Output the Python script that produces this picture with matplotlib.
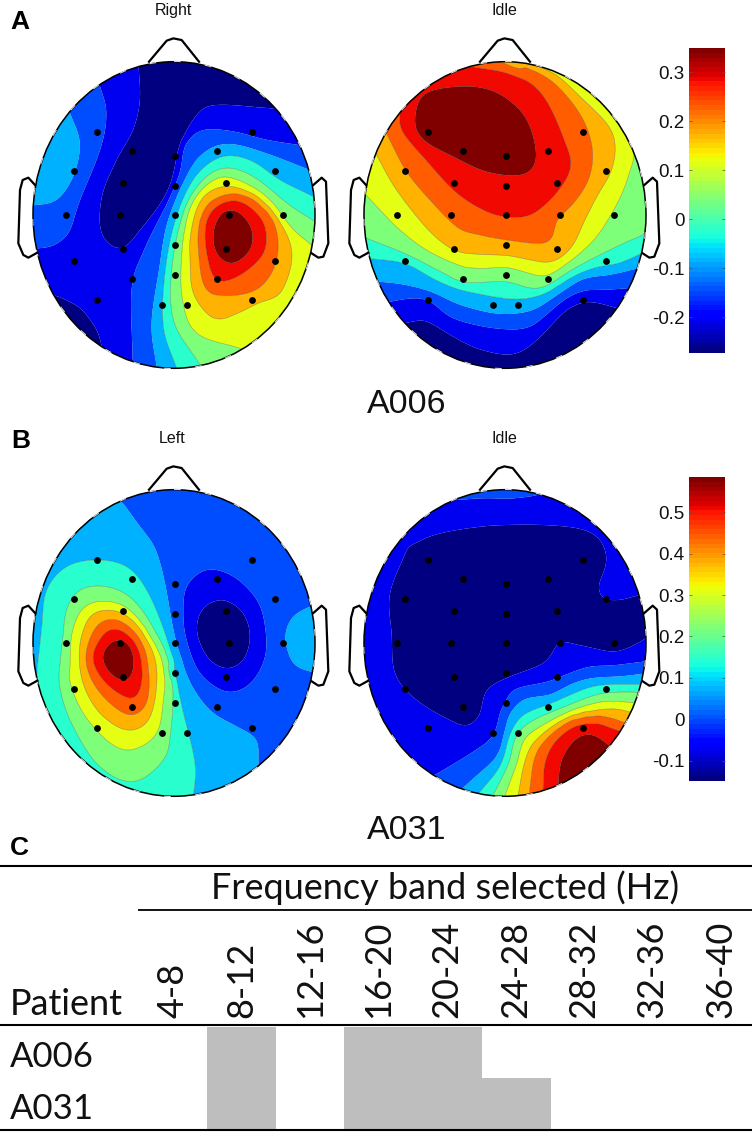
import numpy as np
import matplotlib
matplotlib.use("Agg")
import matplotlib.pyplot as plt
from matplotlib.colors import ListedColormap, Normalize
from matplotlib.patches import Ellipse
from matplotlib.cm import ScalarMappable

W, H = 756, 1134
FONT_SANS = ['Liberation Sans', 'DejaVu Sans']
FONT_TABLE = ['Lato', 'DejaVu Sans']

# electrode positions, relative to head centre (reading units, 3 per pixel)
ELECTRODE_X = [-231, 233, -126, 3, 129, -299, 302, -154, 3, 157, -324, -162, 3, 164, 327,
               -154, 3, 157, -299, 302, -126, 3, 129, -231, 233, -37, 39]
ELECTRODE_Y = [-250, -250, -193, -178, -193, -132, -132, -96, -88, -96, 0, 0, 0, 0, 0,
               101, 89, 101, 137, 137, 193, 181, 193, 254, 254, 270, 270]

RIGHT_ISO = [
    (1, [(415,190),(420,300),(400,390),(350,480),(305,590),(305,700),(365,745),(430,680),(505,570),(540,440),(590,345),(650,315),(820,325)]),
    (1, [(175,890),(240,925),(290,990),(305,1040)]),
    (2, [(300,260),(320,340),(300,450),(240,600),(205,700),(150,740),(110,745)]),
    (2, [(398,1080),(395,860),(430,750),(490,630),(522,560),(540,510),(555,430),(610,390),(700,395),(800,420),(895,435)]),
    (3, [(210,340),(240,430),(220,530),(170,600),(105,615)]),
    (3, [(470,1100),(455,970),(480,800),(505,660),(560,530),(620,455),(690,432),(800,460),(930,510)]),
    (4, [(530,1105),(490,980),(497,800),(530,650),(585,530),(665,470),(750,480),(840,540),(940,590)]),
    (5, [(600,1095),(520,960),(515,800),(550,640),(610,540),(680,505),(760,530),(850,600),(945,665)]),
    (6, [(720,1045),(590,1000),(550,910),(545,780),(570,620),(640,540),(700,535),(800,590),(870,680),(935,735)]),
    (7, [(572,700),(570,780),(580,880),(640,955),(700,945),(780,905),(840,880),(875,780),(855,690),(780,600),(690,560),(610,590),(572,700)]),
    (8, [(595,700),(610,850),(660,885),(770,870),(830,780),(820,660),(750,590),(680,585),(620,620),(595,700)]),
    (9, [(615,710),(640,830),(700,835),(790,760),(790,670),(730,610),(680,605),(630,640),(615,710)]),
    (10, [(640,700),(650,760),(700,790),(750,750),(755,690),(720,640),(670,635),(640,700)]),
]
RIGHT_PEAKS = [(700,710,10.9),(600,250,0.3),(380,620,0.6),(220,960,0.6),(170,480,3.6),(300,800,1.5),(800,980,6.6),(870,850,6.8),(350,350,1.5)]

IDLE_A_ISO = [
    (1, [(195,970),(260,965),(340,1010),(410,1045),(500,1065),(560,1045),(620,990),(680,930),(740,905),(800,915),(835,925)]),
    (2, [(150,905),(210,895),(265,900),(330,950),(410,975),(500,987),(570,980),(630,935),(680,895),(730,875),(800,870),(865,865)]),
    (3, [(115,845),(190,855),(280,880),(360,915),(460,940),(530,940),(590,925),(660,880),(730,835),(800,825),(890,805)]),
    (4, [(85,775),(196,790),(290,840),(370,870),(490,895),(560,895),(620,875),(680,840),(760,805),(840,790),(905,760)]),
    (5, [(80,715),(190,760),(310,820),(370,848),(498,845),(570,865),(620,860),(680,820),(760,775),(840,735),(910,705)]),
    (6, [(78,585),(130,640),(180,690),(260,750),(360,795),(430,805),(500,802),(570,820),(625,825),(680,790),(730,750),(770,710),(815,640),(850,570),(880,480)]),
    (7, [(110,465),(170,570),(265,690),(340,750),(400,762),(500,767),(560,778),(620,787),(660,775),(700,735),(730,670),(770,590),(815,510),(825,430),(800,370),(720,290),(640,220),(545,190)]),
    (8, [(140,400),(196,510),(270,600),(350,680),(400,700),(500,720),(610,730),(640,700),(650,660),(700,610),(745,540),(757,450),(725,350),(650,255),(560,195)]),
    (9, [(180,340),(185,390),(250,470),(340,570),(420,625),(490,650),(570,645),(640,590),(690,510),(680,440),(610,290),(520,225),(395,200)]),
    (10, [(225,365),(250,285),(350,260),(450,270),(540,330),(580,410),(585,490),(540,525),(440,515),(340,470),(250,420),(225,365)]),
]
IDLE_A_PEAKS = [(400,390,10.9),(480,1100,0.3),(760,1000,0.3)]

LEFT_ISO = [
    (1, [(590,620),(610,565),(670,540),(730,580),(750,650),(730,720),(680,745),(630,720),(600,670),(590,620)]),
    (2, [(550,580),(560,500),(620,450),(700,470),(770,540),(795,620),(795,710),(750,790),(680,815),(600,760),(560,660),(550,580)]),
    (3, [(365,245),(420,320),(465,385),(495,490),(525,650),(570,780),(630,870),(720,925),(770,960),(775,1035)]),
    (3, [(930,560),(880,590),(855,650),(880,730),(935,755)]),
    (4, [(580,1125),(585,1030),(545,860),(520,760),(495,640),(440,510),(380,440),(290,420),(200,440),(140,510),(125,620),(110,760)]),
    (5, [(180,740),(190,650),(200,570),(240,510),(320,500),(400,540),(470,640),(520,760),(510,950),(490,1020),(420,1080),(350,1075),(280,1020),(210,900),(180,800),(180,740)]),
    (6, [(210,740),(215,640),(250,565),(310,545),(380,565),(440,640),(490,740),(490,830),(470,940),(390,990),(320,960),(250,880),(210,790),(210,740)]),
    (7, [(240,680),(270,590),(330,570),(400,600),(460,690),(470,790),(445,900),(380,930),(300,880),(250,790),(240,680)]),
    (8, [(258,700),(290,620),(350,600),(420,660),(445,760),(440,850),(390,885),(320,840),(270,770),(258,700)]),
    (9, [(280,700),(320,635),(370,635),(420,700),(425,790),(395,835),(330,800),(290,750),(280,700)]),
    (10, [(310,700),(340,665),(385,670),(400,710),(395,760),(360,780),(320,745),(310,700)]),
]
LEFT_PEAKS = [(360,720,10.9),(670,640,0.3),(850,900,2.5),(650,300,2.5),(200,380,3.5),(900,650,3.3),(480,1100,4.5),(150,850,4.4),(300,1070,4.5),(900,450,2.5)]

IDLE_B_ISO = [
    (1, [(205,380),(150,520),(155,640),(165,760),(230,840),(340,905),(390,915),(420,880),(440,810),(500,775),(610,730),(640,690),(660,665),(740,680),(830,695),(910,660)]),
    (1, [(895,525),(840,540),(790,535),(775,500),(800,420),(770,350),(680,320),(480,315),(300,340),(205,380)]),
    (2, [(350,240),(430,235),(520,235),(580,228)]),
    (2, [(285,1065),(360,1020),(420,980),(465,935),(480,880),(495,850),(520,810),(620,785),(690,760),(750,740),(820,735),(915,725)]),
    (3, [(368,1105),(470,1010),(490,955),(510,880),(560,835),(630,825),(700,790),(760,775),(840,770),(910,760)]),
    (4, [(420,1115),(480,1040),(505,955),(545,890),(610,860),(700,820),(780,795),(905,795)]),
    (5, [(460,1125),(505,1030),(530,945),(590,895),(690,855),(770,825),(840,815),(890,815)]),
    (6, [(495,1125),(535,1020),(555,955),(620,910),(710,865),(790,845),(880,850)]),
    (7, [(535,1125),(555,1020),(590,960),(660,905),(740,880),(820,865),(870,875)]),
    (8, [(568,1115),(585,1010),(620,955),(700,895),(770,885),(840,905),(860,910)]),
    (9, [(610,1105),(615,1030),(650,960),(720,915),(790,915),(835,930)]),
    (10, [(655,1090),(665,1020),(710,955),(760,945),(810,980)]),
]
IDLE_B_PEAKS = [(750,1040,10.9),(500,500,0.3),(800,620,0.4),(300,500,0.3),(300,750,0.3),(700,500,0.3),(200,1000,1.6),(500,270,1.7),(860,450,1.5),(100,700,1.5)]

# map centres in their reading crops
RIGHT_CENTRE = (522, 645)
IDLE_A_CENTRE = (495, 645)
LEFT_CENTRE = (522, 669)
IDLE_B_CENTRE = (495, 669)

BAND_POS = [0.0, 0.1, 0.2, 0.3, 0.4, 0.5, 0.625, 0.72, 0.81, 0.9, 1.0]

CBAR_A_RANGE = (-0.273, 0.349)
CBAR_A_TICKS = [-0.2, -0.1, 0, 0.1, 0.2, 0.3]
CBAR_B_RANGE = (-0.149, 0.585)
CBAR_B_TICKS = [-0.1, 0, 0.1, 0.2, 0.3, 0.4, 0.5]

BANDS = ['4-8', '8-12', '12-16', '16-20', '20-24', '24-28', '28-32', '32-36', '36-40']
PATIENTS = ['A006', 'A031']
SELECTED = [[0, 1, 0, 1, 1, 0, 0, 0, 0],
            [0, 1, 0, 1, 1, 1, 0, 0, 0]]

RX, RY = 423.0, 460.0  # head radii in reading units
band_cmap = ListedColormap(plt.get_cmap('jet')(BAND_POS))


def spline_through(line):
    """Catmull-Rom path through the read points of one iso-line."""
    line = np.array(line, float)
    closed = np.allclose(line[0], line[-1])
    if closed:
        ctrl = np.vstack([line[-2], line, line[1]])
    else:
        ctrl = np.vstack([2 * line[0] - line[1], line, 2 * line[-1] - line[-2]])
    out = []
    for i in range(1, len(ctrl) - 2):
        p0, p1, p2, p3 = ctrl[i - 1], ctrl[i], ctrl[i + 1], ctrl[i + 2]
        n = max(1, int(np.hypot(*(p2 - p1)) // 25))
        for t in np.arange(n) / n:
            out.append(0.5 * (2 * p1 + (p2 - p0) * t + (2 * p0 - 5 * p1 + 4 * p2 - p3) * t ** 2
                              + (3 * p1 - p0 - 3 * p2 + p3) * t ** 3))
    out.append(line[-1])
    return out


def blur(Z, sigma):
    r = int(3 * sigma)
    k = np.exp(-0.5 * (np.arange(-r, r + 1) / sigma) ** 2)
    k /= k.sum()
    Z = np.pad(Z, r, mode='edge')
    Z = np.apply_along_axis(lambda m: np.convolve(m, k, mode='same'), 0, Z)
    Z = np.apply_along_axis(lambda m: np.convolve(m, k, mode='same'), 1, Z)
    return Z[r:-r, r:-r]


def fit_field(iso, peaks, centre):
    pts, vals = [], []
    for level, line in iso:
        sp = spline_through(line)
        pts.extend(sp)
        vals.extend([level] * len(sp))
    for x, y, v in peaks:
        pts.append(np.array([x, y], float))
        vals.append(v)
    pts = np.array(pts)
    pts = (pts - np.array(centre)) / np.array([RX, RY])
    vals = np.array(vals, float)
    _, idx = np.unique(pts.round(6), axis=0, return_index=True)
    pts, vals = pts[idx], vals[idx]

    def kernel(d2):
        return 0.5 * d2 * np.log(d2 + 1e-12)

    n = len(pts)
    d2 = ((pts[:, None, :] - pts[None, :, :]) ** 2).sum(-1)
    P = np.c_[np.ones(n), pts]
    A = np.block([[kernel(d2) + 1e-3 * np.eye(n), P], [P.T, np.zeros((3, 3))]])
    sol = np.linalg.solve(A, np.r_[vals, np.zeros(3)])

    gu = np.linspace(-1.05, 1.05, 360)
    gv = np.linspace(-1.05, 1.05, 360)
    U, V = np.meshgrid(gu, gv)
    q = np.c_[U.ravel(), V.ravel()]
    out = np.zeros(len(q))
    for i in range(0, len(q), 8000):
        c = q[i:i + 8000]
        dd = ((c[:, None, :] - pts[None, :, :]) ** 2).sum(-1)
        out[i:i + 8000] = kernel(dd) @ sol[:n] + sol[n] + c @ sol[n + 1:]
    Z = blur(out.reshape(U.shape), 2.5)
    return gu, gv, np.clip(Z, 0.01, 10.99)


fig = plt.figure(figsize=(W / 100, H / 100), dpi=100, facecolor='white')
ov = fig.add_axes([0, 0, 1, 1], zorder=5)
ov.set_xlim(0, W)
ov.set_ylim(H, 0)
ov.axis('off')
ov.patch.set_alpha(0)

PX_RX, PX_RY = 141.0, 153.3
EXT_X, EXT_Y = 1.25, 1.25


def head(cx, cy, iso, peaks, centre):
    ax = fig.add_axes([(cx - EXT_X * PX_RX) / W, 1 - (cy + EXT_Y * PX_RY) / H,
                       2 * EXT_X * PX_RX / W, 2 * EXT_Y * PX_RY / H])
    ax.set_xlim(-EXT_X, EXT_X)
    ax.set_ylim(EXT_Y, -EXT_Y)
    ax.axis('off')
    ax.patch.set_alpha(0)
    gu, gv, Z = fit_field(iso, peaks, centre)
    levels = np.arange(0, 12)
    cf = ax.contourf(gu, gv, Z, levels=levels, cmap=band_cmap, vmin=0, vmax=11, antialiased=True)
    cl_hi = ax.contour(gu, gv, Z, levels=levels[4:11], colors='#303030', linewidths=0.4, alpha=0.45)
    cl_lo = ax.contour(gu, gv, Z, levels=levels[1:4], colors='#303030', linewidths=0.3, alpha=0.2)
    clip = Ellipse((0, 0), 2, 2, transform=ax.transData, facecolor='none', edgecolor='none')
    ax.add_patch(clip)
    cf.set_clip_path(clip)
    cl_hi.set_clip_path(clip)
    cl_lo.set_clip_path(clip)
    ax.add_patch(Ellipse((0, 0), 2, 2, facecolor='none', edgecolor='black', lw=1.1))
    ax.add_patch(Ellipse((0, 0), 2.004, 2.004, facecolor='none', edgecolor='#d8d8d8', lw=0.8,
                         linestyle=(0, (6, 22))))
    ax.scatter(np.array(ELECTRODE_X) / RX, np.array(ELECTRODE_Y) / RY, s=24, c='black', zorder=4, linewidths=0)
    nose_x = np.array([-75, -22, -2, 23, 75]) / RX
    nose_y = np.array([-460, -523, -530, -525, -460]) / RY
    ax.plot(nose_x, nose_y, color='black', lw=1.6, clip_on=False, solid_joinstyle='round')
    ear_x = np.array([-417, -437, -454, -462, -467, -452, -437, -410]) / RX
    ear_y = np.array([-90, -112, -105, -75, 85, 120, 128, 113]) / RY
    ax.plot(ear_x, ear_y, color='black', lw=1.6, clip_on=False)
    ear_rx = np.array([418, 443, 456, 463, 448, 433, 413]) / RX
    ear_ry = np.array([-90, -112, -100, 85, 125, 128, 115]) / RY
    ax.plot(ear_rx, ear_ry, color='black', lw=1.6, clip_on=False)


head(174, 215, RIGHT_ISO, RIGHT_PEAKS, RIGHT_CENTRE)
head(505, 215, IDLE_A_ISO, IDLE_A_PEAKS, IDLE_A_CENTRE)
head(174, 643, LEFT_ISO, LEFT_PEAKS, LEFT_CENTRE)
head(505, 643, IDLE_B_ISO, IDLE_B_PEAKS, IDLE_B_CENTRE)


def cbar(y0, y1, rng, ticks):
    cax = fig.add_axes([689 / W, 1 - y1 / H, 36 / W, (y1 - y0) / H])
    sm = ScalarMappable(norm=Normalize(*rng), cmap=plt.get_cmap('jet', 64))
    cb = fig.colorbar(sm, cax=cax, ticks=ticks)
    cb.outline.set_visible(False)
    cax.yaxis.set_ticks_position('both')
    cax.tick_params(axis='y', direction='in', length=2.5, width=0.5, color='#555555',
                    labelleft=True, labelright=False, pad=3, labelsize=13.5)
    cax.set_yticklabels([f'{t:g}' for t in ticks], family=FONT_SANS, color='#111111')


cbar(48, 353, CBAR_A_RANGE, CBAR_A_TICKS)
cbar(477, 781, CBAR_B_RANGE, CBAR_B_TICKS)

for x, y, s in [(173, 15, 'Right'), (504, 15, 'Idle'), (172, 443, 'Left'), (504, 443, 'Idle')]:
    ov.text(x, y, s, ha='center', va='baseline', fontsize=11.5, family=FONT_SANS, color='#111111')
for x, y, s in [(407, 413, 'A006'), (407, 839, 'A031')]:
    ov.text(x, y, s, ha='center', va='baseline', fontsize=24.5, family=FONT_SANS, color='#111111')
for x, y, s in [(10, 29, 'A'), (11, 448, 'B'), (10, 855, 'C')]:
    ov.text(x, y, s, ha='left', va='baseline', fontsize=19, fontweight='bold', family=FONT_SANS, color='black')

# table
tb = fig.add_axes([138 / W, 1 - 1129 / H, 619 / W, 102 / H])
tb.pcolormesh(np.arange(len(BANDS) + 1), np.arange(len(PATIENTS) + 1), np.array(SELECTED),
              cmap=ListedColormap(['white', '#BEBEBE']), vmin=0, vmax=1)
tb.set_xlim(0, len(BANDS))
tb.set_ylim(len(PATIENTS), 0)
tb.axis('off')
for i, b in enumerate(BANDS):
    ov.text(138 + 68.4 * (i + 0.52), 1018, b, rotation=90, ha='center', va='bottom',
            fontsize=26, family=FONT_TABLE, color='#111111')
ov.text(10, 1015, 'Patient', ha='left', va='baseline', fontsize=26, family=FONT_TABLE, color='#111111')
for y, p in zip([1067, 1119], PATIENTS):
    ov.text(10, y, p, ha='left', va='baseline', fontsize=25, family=FONT_TABLE, color='#111111')
ov.text(445, 899, 'Frequency band selected (Hz)', ha='center', va='baseline', fontsize=26,
        family=FONT_TABLE, color='#111111')
for y, x0, lw in [(866, 0, 1.5), (910, 138, 1.3), (1025, 0, 1.5), (1130, 0, 1.5)]:
    ov.plot([x0, 752], [y, y], color='black', lw=lw, solid_capstyle='butt')

fig.savefig('out.png', dpi=100)
